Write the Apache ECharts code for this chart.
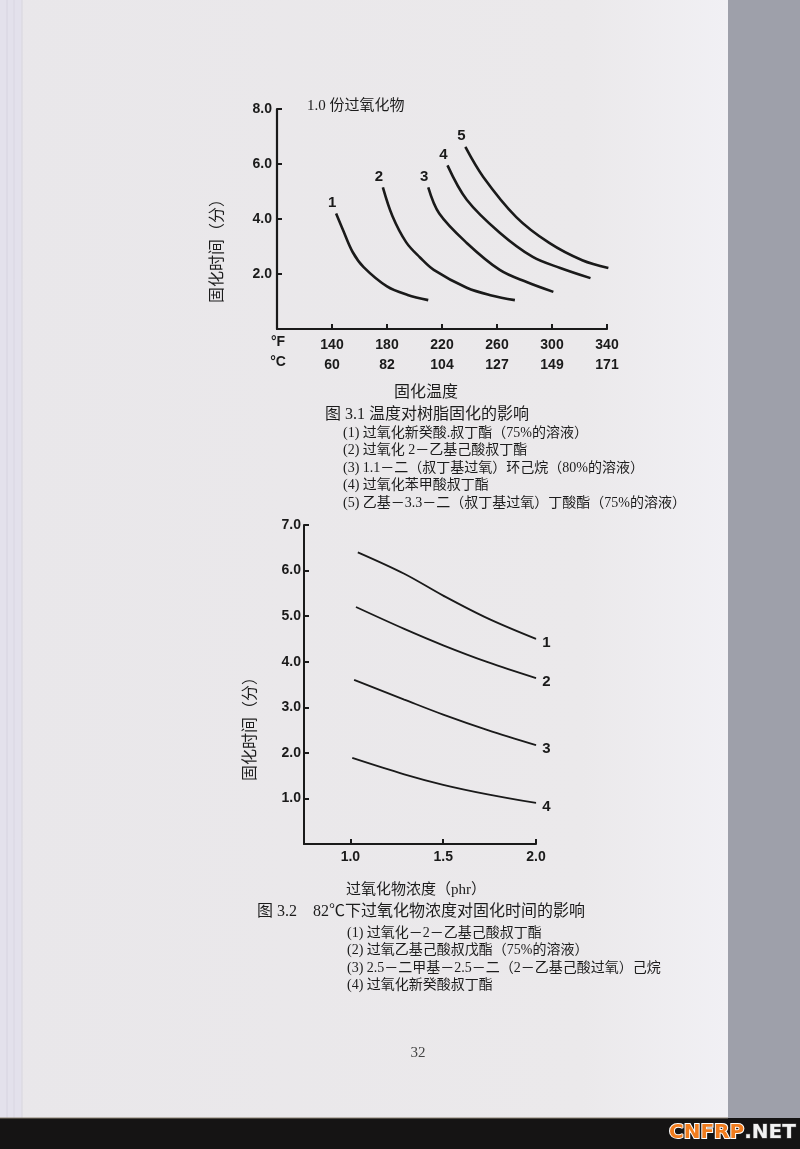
<!DOCTYPE html>
<html><head><meta charset="utf-8">
<script src="https://cdn.jsdelivr.net/npm/echarts@6/dist/echarts.min.js"></script>
<style>html,body{margin:0;padding:0;background:#9ea0aa}#c{width:800px;height:1149px}</style>
</head><body><div id="c"></div><script>
// ---- Figure 3.1 data ----
const fTicks = [140, 180, 220, 260, 300, 340];
const cTicks = [60, 82, 104, 127, 149, 171];
const names1 = ['1', '2', '3', '4', '5'];
const f1c1 = [[143,4.2],[148,3.6],[155,2.8],[163,2.25],[180,1.55],[195,1.24],[210,1.05]];
const f1c2 = [[177,5.15],[184,4.1],[194,3.15],[204,2.6],[214,2.15],[238,1.5],[256,1.22],[273,1.05]];
const f1c3 = [[210,5.15],[218,4.2],[238,3.13],[262,2.15],[282,1.7],[301,1.35]];
const f1c4 = [[224,5.95],[238,4.7],[262,3.5],[286,2.62],[306,2.22],[328,1.85]];
const f1c5 = [[237,6.62],[250,5.53],[274,4.07],[298,3.13],[322,2.5],[341,2.22]];
const curves1 = [f1c1, f1c2, f1c3, f1c4, f1c5];
const legend1 = [
  '(1) 过氧化新癸酸.叔丁酯（75%的溶液）',
  '(2) 过氧化 2－乙基己酸叔丁酯',
  '(3) 1.1－二（叔丁基过氧）环己烷（80%的溶液）',
  '(4) 过氧化苯甲酸叔丁酯',
  '(5) 乙基－3.3－二（叔丁基过氧）丁酸酯（75%的溶液）'
];
// ---- Figure 3.2 data ----
const phrTicks = [1.0, 1.5, 2.0];
const names2 = ['1', '2', '3', '4'];
const f2c1 = [[1.04,6.4],[1.29,5.93],[1.5,5.45],[1.74,4.95],[2.0,4.5]];
const f2c2 = [[1.03,5.2],[1.29,4.72],[1.5,4.36],[1.74,3.99],[2.0,3.64]];
const f2c3 = [[1.02,3.6],[1.29,3.17],[1.5,2.84],[1.74,2.5],[2.0,2.17]];
const f2c4 = [[1.01,1.89],[1.29,1.53],[1.5,1.3],[1.74,1.09],[2.0,0.9]];
const curves2 = [f2c1, f2c2, f2c3, f2c4];
const legend2 = [
  '(1) 过氧化－2－乙基己酸叔丁酯',
  '(2) 过氧乙基己酸叔戊酯（75%的溶液）',
  '(3) 2.5－二甲基－2.5－二（2－乙基己酸过氧）己烷',
  '(4) 过氧化新癸酸叔丁酯'
];

const INK = '#1a1a1a';
const NUMF = '"Liberation Sans", Arial, sans-serif';
const CJK = '"Liberation Serif", "Noto Sans CJK SC", serif';

const chart = echarts.init(document.getElementById('c'), null, {renderer: 'canvas'});

function axisCommon() {
  return {
    axisLine: {show: true, lineStyle: {color: INK, width: 2.2}},
    axisTick: {show: true, inside: true, length: 5, lineStyle: {color: INK, width: 2}},
    splitLine: {show: false},
    axisLabel: {color: INK, fontFamily: NUMF, fontWeight: 'bold', fontSize: 14}
  };
}

const numLabel = {color: INK, opacity: 1, fontFamily: NUMF, fontWeight: 'bold', fontSize: 15};
const series = [];
curves1.forEach((d, i) => {
  series.push({type: 'line', xAxisIndex: 0, yAxisIndex: 0, data: d, smooth: 0.35,
    symbol: 'none', lineStyle: {color: INK, width: 2.6}, silent: true, z: 5});
  series.push({type: 'scatter', xAxisIndex: 0, yAxisIndex: 0, data: [d[0]],
    symbolSize: 0.5, itemStyle: {color: INK, opacity: 1}, silent: true, z: 6,
    label: Object.assign({show: true, formatter: names1[i], position: 'top', distance: 3, offset: [-4, 0]}, numLabel)});
});
curves2.forEach((d, i) => {
  series.push({type: 'line', xAxisIndex: 1, yAxisIndex: 1, data: d, smooth: 0.35,
    symbol: 'none', lineStyle: {color: INK, width: 1.8}, silent: true, z: 5});
  series.push({type: 'scatter', xAxisIndex: 1, yAxisIndex: 1, data: [d[d.length - 1]],
    symbolSize: 0.5, itemStyle: {color: INK, opacity: 1}, silent: true, z: 6,
    label: Object.assign({show: true, formatter: names2[i], position: 'right', distance: 6, offset: [0, 4]}, numLabel)});
});

function txt(x, y, text, size, opts) {
  return Object.assign({type: 'text', x: x, y: y, z: 100, silent: true,
    style: Object.assign({text: text, fill: '#1c1c1c', font: size + 'px ' + CJK,
      textAlign: 'left', textVerticalAlign: 'middle'}, (opts && opts.style) || {})},
    opts && opts.rotation ? {rotation: opts.rotation} : {});
}

const graphics = [
  // page background
  {type: 'rect', z: -10, silent: true, shape: {x: 0, y: 0, width: 728, height: 1118},
    style: {fill: new echarts.graphic.LinearGradient(0, 0, 1, 0, [
      {offset: 0, color: '#e9e7ea'}, {offset: 0.8, color: '#ebe9eb'}, {offset: 1, color: '#f1f0f4'}])}},
  {type: 'rect', z: -9, silent: true, shape: {x: 0, y: 0, width: 22, height: 1118},
    style: {fill: '#e3e1ec'}},
  {type: 'line', z: -8, silent: true, shape: {x1: 7, y1: 0, x2: 7, y2: 1118}, style: {stroke: '#d6d3e0', lineWidth: 1}},
  {type: 'line', z: -8, silent: true, shape: {x1: 14, y1: 0, x2: 14, y2: 1118}, style: {stroke: '#d9d6e2', lineWidth: 1}},
  {type: 'line', z: -8, silent: true, shape: {x1: 22, y1: 0, x2: 22, y2: 1118}, style: {stroke: '#d8d6dd', lineWidth: 1}},
  {type: 'rect', z: -10, silent: true, shape: {x: 0, y: 1118, width: 800, height: 31},
    style: {fill: '#151414'}},
  {type: 'line', z: -8, silent: true, shape: {x1: 0, y1: 1118, x2: 728, y2: 1118}, style: {stroke: '#8a8070', lineWidth: 1}},
  // figure 3.1 texts
  txt(307, 106, '1.0 份过氧化物', 15),
  txt(218, 247, '固化时间（分）', 16, {rotation: Math.PI / 2, style: {textAlign: 'center'}}),
  txt(278, 342, '°F', 14, {style: {textAlign: 'center', font: 'bold 14px ' + NUMF, fill: INK}}),
  txt(278, 362, '°C', 14, {style: {textAlign: 'center', font: 'bold 14px ' + NUMF, fill: INK}}),
  txt(426, 393, '固化温度', 16, {style: {textAlign: 'center'}}),
  txt(325, 415, '图 3.1 温度对树脂固化的影响', 16),
  // figure 3.2 texts
  txt(251, 725, '固化时间（分）', 16, {rotation: Math.PI / 2, style: {textAlign: 'center'}}),
  txt(416, 890, '过氧化物浓度（phr）', 15, {style: {textAlign: 'center'}}),
  txt(257, 912, '图 3.2　82℃下过氧化物浓度对固化时间的影响', 16),
  // page number
  txt(418, 1053, '32', 15, {style: {textAlign: 'center', fill: '#444'}}),
  // watermark
  {type: 'text', x: 669, y: 1133, z: 100, silent: true,
    style: {text: '{o|CNFRP}{w|.NET}', textVerticalAlign: 'middle', textAlign: 'left',
      rich: {
        o: {fill: '#f07c1e', font: 'bold 20px "DejaVu Sans", sans-serif', stroke: '#ffffff', lineWidth: 2},
        w: {fill: '#f2f2f2', font: 'bold 20px "DejaVu Sans", sans-serif', stroke: '#555', lineWidth: 1}
      }}}
];
legend1.forEach((t, i) => graphics.push(txt(343, 433 + i * 17.5, t, 14)));
legend2.forEach((t, i) => graphics.push(txt(347, 933 + i * 17.5, t, 14)));

const x1 = axisCommon();
const y1 = axisCommon();
const x2 = axisCommon();
const y2 = axisCommon();
x2.axisLine.lineStyle.width = 2; y2.axisLine.lineStyle.width = 2;

chart.setOption({
  backgroundColor: '#9ea0aa',
  animation: false,
  grid: [
    {left: 277, top: 109, width: 330, height: 220},
    {left: 304, top: 525, width: 232, height: 319}
  ],
  xAxis: [
    Object.assign(x1, {type: 'value', gridIndex: 0, min: 100, max: 340,
      axisTick: Object.assign(x1.axisTick, {customValues: fTicks}),
      axisLabel: Object.assign(x1.axisLabel, {customValues: fTicks, margin: 6, lineHeight: 20,
        formatter: v => v + '\n' + cTicks[fTicks.indexOf(v)]})}),
    Object.assign(x2, {type: 'value', gridIndex: 1, min: 0.75, max: 2.0,
      axisTick: Object.assign(x2.axisTick, {customValues: phrTicks}),
      axisLabel: Object.assign(x2.axisLabel, {customValues: phrTicks, margin: 6,
        formatter: v => v.toFixed(1)})})
  ],
  yAxis: [
    Object.assign(y1, {type: 'value', gridIndex: 0, min: 0, max: 8, interval: 2,
      axisLabel: Object.assign(y1.axisLabel, {showMinLabel: false, margin: 5,
        formatter: v => v === 0 ? '' : v.toFixed(1)})}),
    Object.assign(y2, {type: 'value', gridIndex: 1, min: 0, max: 7, interval: 1,
      axisLabel: Object.assign(y2.axisLabel, {showMinLabel: false, margin: 3,
        formatter: v => v === 0 ? '' : v.toFixed(1)})})
  ],
  series: series,
  graphic: graphics
});
</script></body></html>
